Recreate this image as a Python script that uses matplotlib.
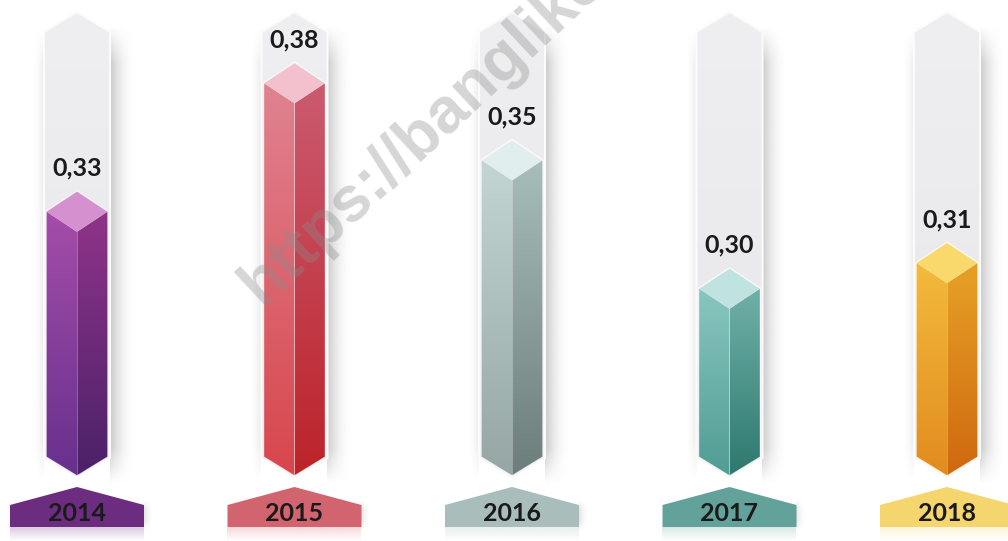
import numpy as np
import matplotlib
matplotlib.use("Agg")
import matplotlib.pyplot as plt
from matplotlib.patches import Polygon
from matplotlib.colors import LinearSegmentedColormap, to_rgb

# ---------------- data ----------------
years = ["2014", "2015", "2016", "2017", "2018"]
values = [0.33, 0.38, 0.35, 0.30, 0.31]
value_labels = ["0,33", "0,38", "0,35", "0,30", "0,31"]

# ---------------- styles ----------------
left_face = [("#a54daa", "#66308c"), ("#e08391", "#d8464c"), ("#c3d6d4", "#95a6a4"),
             ("#88c7c0", "#519c93"), ("#f3bb3c", "#e28b1f")]
right_face = [("#8f3489", "#4a2168"), ("#cb5b70", "#bc2329"), ("#a8bebb", "#6c7d7b"),
              ("#70b1a9", "#2d786e"), ("#e7a227", "#cf680f")]
top_face = ["#d590d0", "#f2c1cd", "#e2eded", "#c0e3df", "#f9d96b"]
plate_col = ["#6c2d80", "#d2646f", "#a9bebc", "#63a29b", "#f4d56e"]

W, H = 1008, 541
PX_X = 217.5          # pixels per category step
K = 2568.0            # pixels per value unit
X0 = -77 / PX_X       # left xlim
V_TOP = 0.4043        # value at figure top


def v_of_px(py):
    return V_TOP - py / K


def dx(px):
    return px / PX_X


def dy(px):
    return px / K


fig = plt.figure(figsize=(W / 100, H / 100), dpi=100)
ax = fig.add_axes([0, 0, 1, 1])
ax.axis("off")
fig.patch.set_facecolor("white")

grad = np.linspace(0, 1, 256).reshape(-1, 1)


def grad_fill(poly_pts, c_top, c_bot, z):
    poly = Polygon(poly_pts, closed=True, facecolor="none", edgecolor="none",
                   transform=ax.transData)
    ax.add_patch(poly)
    xs = [p[0] for p in poly_pts]
    ys = [p[1] for p in poly_pts]
    cmap = LinearSegmentedColormap.from_list("g", [c_top, c_bot])
    im = ax.imshow(grad, cmap=cmap, extent=[min(xs), max(xs), min(ys), max(ys)],
                   aspect="auto", origin="upper", zorder=z, interpolation="bilinear")
    im.set_clip_path(poly)


def soft_shadow(extent, color, amax, fade_right, z, vert_fade=0.08):
    nx, ny = 64, 200
    rgb = to_rgb(color)
    img = np.zeros((ny, nx, 4))
    img[..., 0], img[..., 1], img[..., 2] = rgb
    t = np.linspace(0, 1, nx)
    hx = (1 - t) ** 2 if fade_right else t ** 2
    s = np.linspace(0, 1, ny)
    vy = np.clip(np.minimum(s / vert_fade, (1 - s) / vert_fade), 0, 1)
    img[..., 3] = amax * vy[:, None] * hx[None, :]
    ax.imshow(img, extent=extent, aspect="auto", origin="upper", zorder=z,
              interpolation="bilinear")


def alpha_grad_v(extent, color, a0, a1, z):
    n = 64
    rgb = to_rgb(color)
    img = np.zeros((n, 1, 4))
    img[..., 0], img[..., 1], img[..., 2] = rgb
    img[:, 0, 3] = np.linspace(a0, a1, n)
    ax.imshow(img, extent=extent, aspect="auto", origin="upper", zorder=z,
              interpolation="bilinear")


hw = dx(31)
hw_bg = dx(33)
pw = dx(67)
side_bot = v_of_px(457)
tip = v_of_px(476)

for i, (yr, val, lab) in enumerate(zip(years, values, value_labels)):
    cx = i
    # soft shadows around background column
    soft_shadow([cx + hw_bg, cx + hw_bg + dx(26), v_of_px(485), v_of_px(25)],
                "#808080", 0.42, True, 1)
    soft_shadow([cx - hw_bg - dx(12), cx - hw_bg, v_of_px(480), v_of_px(30)],
                "#909090", 0.18, False, 1)
    # background column
    bg = [(cx - hw_bg, v_of_px(32)), (cx, v_of_px(12)), (cx + hw_bg, v_of_px(32)),
          (cx + hw_bg, v_of_px(458)), (cx, v_of_px(478)), (cx - hw_bg, v_of_px(458))]
    grad_fill(bg, "#efeff1", "#e7e7e9", 2)
    ax.add_patch(Polygon(bg, closed=True, facecolor="none", edgecolor="#fbfbfb",
                         lw=1.5, zorder=3))

    top = val
    h = dy(20.5)
    lf = [(cx - hw, top - h), (cx, top - 2 * h), (cx, tip), (cx - hw, side_bot)]
    rf = [(cx, top - 2 * h), (cx + hw, top - h), (cx + hw, side_bot), (cx, tip)]
    dm = [(cx - hw, top - h), (cx, top), (cx + hw, top - h), (cx, top - 2 * h)]
    grad_fill(lf, left_face[i][0], left_face[i][1], 4)
    grad_fill(rf, right_face[i][0], right_face[i][1], 4)
    ax.add_patch(Polygon(dm, closed=True, facecolor=top_face[i], edgecolor="none", zorder=5))
    outline = [(cx - hw, top - h), (cx, top), (cx + hw, top - h), (cx + hw, side_bot),
               (cx, tip), (cx - hw, side_bot)]
    ax.add_patch(Polygon(outline, closed=True, facecolor="none", edgecolor="white",
                         lw=1.0, alpha=0.8, zorder=6))
    ax.plot([cx, cx], [top - 2 * h, tip], color="white", lw=0.6, alpha=0.35, zorder=6)

    ax.text(cx, top + dy(15), lab, ha="center", va="baseline", fontsize=18,
            fontweight="bold", color="#1a1a1a", family=["Lato", "DejaVu Sans"], zorder=8)

    # year plate
    plate = [(cx - pw, v_of_px(527)), (cx - pw, v_of_px(505)), (cx, v_of_px(487)),
             (cx + pw, v_of_px(505)), (cx + pw, v_of_px(527))]
    soft_shadow([cx + pw, cx + pw + dx(10), v_of_px(530), v_of_px(500)],
                "#909090", 0.25, True, 3, vert_fade=0.3)
    ax.add_patch(Polygon(plate, closed=True, facecolor=plate_col[i], edgecolor="none",
                         zorder=4))
    alpha_grad_v([cx - pw, cx + pw, v_of_px(541), v_of_px(527)], plate_col[i],
                 0.25, 0.0, 4)
    ax.text(cx, v_of_px(521), yr, ha="center", va="baseline", fontsize=18,
            fontweight="bold", color="#1a1a1a",
            family=["Lato", "DejaVu Sans"], zorder=8)

# watermark (semi-transparent, on top)
ax.text(dx(262) + X0, v_of_px(306), "https://banglike.com", rotation=43,
        rotation_mode="anchor", ha="left", va="baseline", fontsize=46,
        fontweight="bold", color="#8c8c8c", alpha=0.36,
        family=["Liberation Sans", "DejaVu Sans"], zorder=9)

ax.set_xlim(X0, X0 + W / PX_X)
ax.set_ylim(V_TOP - H / K, V_TOP)
fig.savefig("out.png", dpi=100, facecolor="white")
